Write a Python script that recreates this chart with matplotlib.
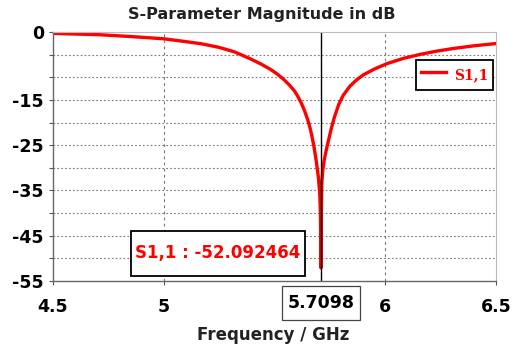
import matplotlib.pyplot as plt
import numpy as np

freq = [4.5, 4.6, 4.71, 4.85, 5.0, 5.08, 5.17, 5.25, 5.32, 5.39, 5.44, 5.48,
        5.51, 5.54, 5.565, 5.59, 5.605, 5.62, 5.635, 5.65, 5.66, 5.668, 5.677,
        5.687, 5.698, 5.704, 5.7075, 5.7098, 5.7115, 5.7135, 5.718, 5.724,
        5.735, 5.745, 5.756, 5.77, 5.79, 5.81, 5.84, 5.87, 5.90, 5.95, 6.007,
        6.08, 6.157, 6.23, 6.306, 6.4, 6.5]
s11 = [-0.3, -0.45, -0.6, -1.0, -1.5, -2.0, -2.6, -3.4, -4.4, -5.9, -7.1, -8.2,
       -9.2, -10.4, -11.6, -13.0, -14.2, -15.6, -17.3, -19.4, -21.1, -22.8, -25.0,
       -28.0, -32.0, -35.5, -40.0, -52.092464, -40.0, -33.5, -30.5, -28.4,
       -25.8, -23.7, -21.4, -18.9, -16.0, -14.0, -12.0, -10.6, -9.5, -8.2, -7.0,
       -5.85, -4.95, -4.25, -3.65, -3.05, -2.55]

marker_f = 5.7098
marker_val = -52.092464

xticks = [4.5, 5, 6, 6.5]
xticklabels = ["4.5", "5", "6", "6.5"]
yticks = [0, -5, -10, -15, -20, -25, -30, -35, -40, -45, -50, -55]
yticklabels = ["0", "", "", "-15", "", "-25", "", "-35", "", "-45", "", "-55"]

fig = plt.figure(figsize=(5.15, 3.51), dpi=100)
ax = fig.add_axes([53 / 515, 1 - 281 / 351, 443 / 515, 249 / 351])

ax.plot(freq, s11, color="#ff0000", lw=2.4, label="S1,1", solid_joinstyle="round")
ax.axvline(marker_f, color="black", lw=1.0)

ax.set_xlim(4.5, 6.5)
ax.set_ylim(-55, 0)
ax.set_xticks(xticks)
ax.set_xticklabels(xticklabels, fontsize=12.5, fontweight="bold")
ax.set_yticks(yticks)
ax.set_yticklabels(yticklabels, fontsize=12.5, fontweight="bold")
ax.tick_params(length=3, width=0.8, color="#555555")
ax.tick_params(axis="x", pad=9.5)
ax.tick_params(axis="y", pad=3.5)

ax.grid(axis="y", color="#777777", linestyle=(0, (1.5, 2)), lw=0.8)
ax.grid(axis="x", color="#777777", linestyle=(0, (2.5, 3)), lw=0.8)
for f in [4.5, 6.5]:
    ax.xaxis.get_gridlines()[xticks.index(f)].set_visible(False)
ax.yaxis.get_gridlines()[0].set_visible(False)
ax.yaxis.get_gridlines()[-1].set_visible(False)

for side in ["top", "right"]:
    ax.spines[side].set_color("#bbbbbb")
for side in ["left", "bottom"]:
    ax.spines[side].set_color("#666666")
    ax.spines[side].set_linewidth(1.0)

fig.text(0.508, 0.958, "S-Parameter Magnitude in dB", ha="center", va="center",
         fontsize=11.5, fontweight="bold", color="#222222")
fig.text(0.53, 0.045, "Frequency / GHz", ha="center", va="center",
         fontsize=12, fontweight="bold", color="#222222")

ax.text(5.245, -48.9, "S1,1 : %.6f" % marker_val, ha="center", va="center",
        fontsize=12, fontweight="bold", color="#ff0000",
        bbox=dict(boxstyle="square,pad=0.25", mutation_aspect=3.2,
                  fc="white", ec="black", lw=1.3))

ax.annotate("%.4f" % marker_f, xy=(marker_f, -55), xycoords="data",
            xytext=(0, -16), textcoords="offset points", ha="center", va="center",
            fontsize=12.5, fontweight="bold", color="black", annotation_clip=False,
            bbox=dict(boxstyle="square,pad=0.3", mutation_aspect=1.5,
                      fc="white", ec="#444444", lw=0.9))

leg = ax.legend(loc="upper right", bbox_to_anchor=(0.993, 0.8876), borderaxespad=0,
                fancybox=False, edgecolor="black", framealpha=1,
                handlelength=1.8, handleheight=1.9, handletextpad=0.55, borderpad=0.35,
                prop={"family": "DejaVu Serif", "weight": "bold", "size": 10})
leg.get_frame().set_linewidth(1.3)
for t in leg.get_texts():
    t.set_color("#ff0000")

fig.savefig("out.png", dpi=100)
